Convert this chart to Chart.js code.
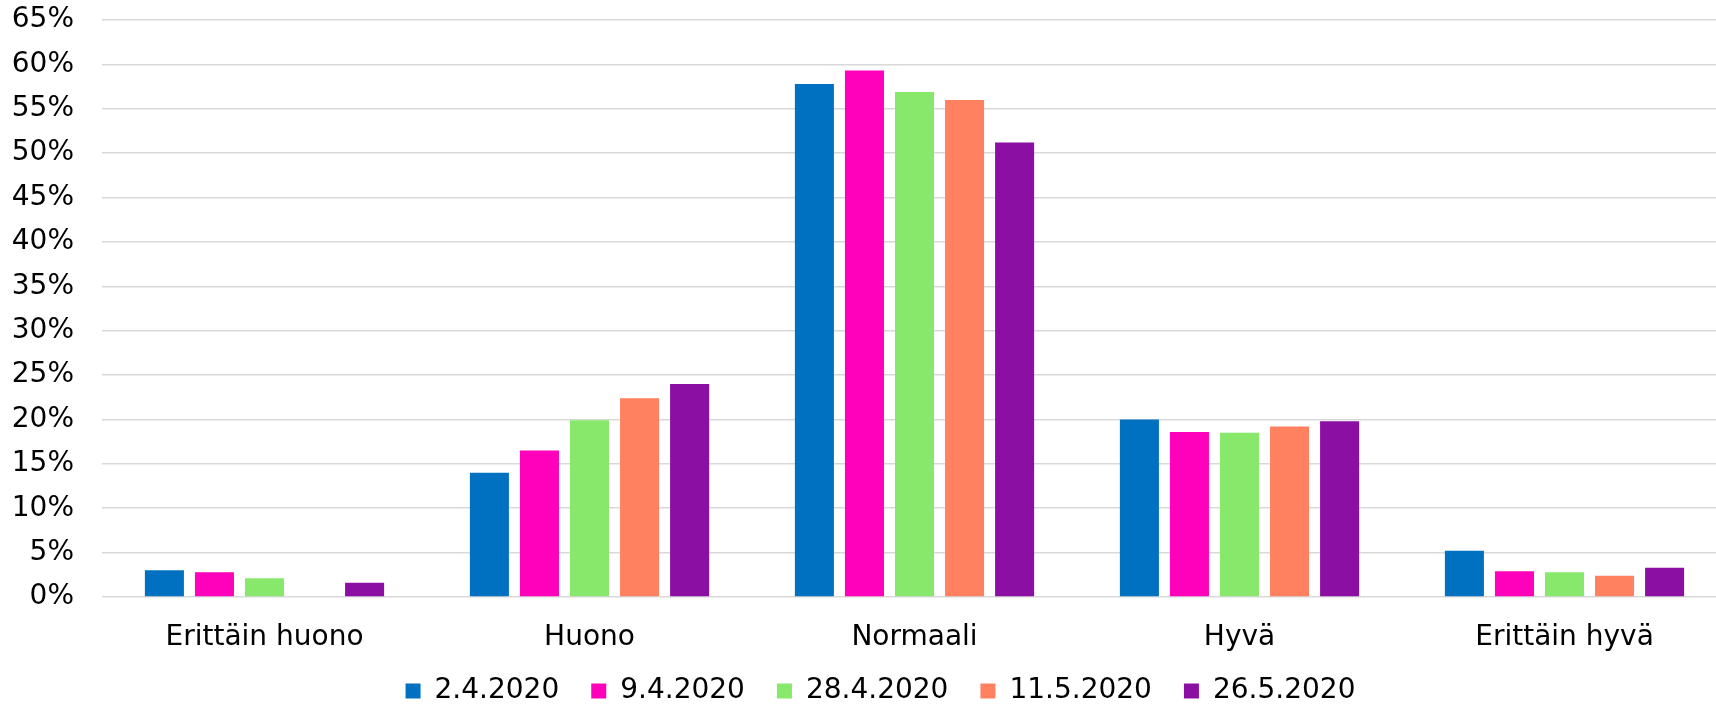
<!DOCTYPE html>
<html>
<head>
<meta charset="utf-8">
<script src="https://cdn.jsdelivr.net/npm/chart.js@4/dist/chart.umd.min.js"></script>
<style>
  html, body { margin: 0; padding: 0; background: #fff; overflow: hidden; }
  #wrap { position: relative; width: 1727px; height: 727px; }
</style>
</head>
<body>
<div id="wrap"><canvas id="chart"></canvas></div>
<script>
// categories and series (percent)
const categories = ['Erittäin huono', 'Huono', 'Normaali', 'Hyvä', 'Erittäin hyvä'];
const seriesNames = ['2.4.2020', '9.4.2020', '28.4.2020', '11.5.2020', '26.5.2020'];
const s_2_4 = [3.0, 14.0, 57.8, 20.0, 5.2];
const s_9_4 = [2.8, 16.5, 59.3, 18.6, 2.9];
const s_28_4 = [2.1, 19.9, 56.9, 18.5, 2.8];
const s_11_5 = [null, 22.4, 56.0, 19.2, 2.4];
const s_26_5 = [1.6, 24.0, 51.2, 19.8, 3.3];
const colors = ['#0070C0', '#FF00BB', '#88E86B', '#FF815F', '#8B0FA3'];

const yMax = 65;
const yStep = 5;

const seriesValues = [s_2_4, s_9_4, s_28_4, s_11_5, s_26_5];

const FONT = { family: '"DejaVu Sans", Verdana, sans-serif', size: 28 };

// nudge legend up/right and let y labels use the full left margin
const nudge = {
  id: 'nudge',
  afterLayout(chart) {
    const lg = chart.legend;
    lg.top -= 12; lg.bottom -= 12;
    lg.left += 17; lg.right += 17;
    chart.scales.y.left = 0;
  }
};

new Chart(document.getElementById('chart'), {
  type: 'bar',
  data: {
    labels: categories,
    datasets: seriesNames.map((name, i) => ({
      label: name,
      data: seriesValues[i],
      backgroundColor: colors[i],
      borderWidth: 0,
      categoryPercentage: 0.77,
      barPercentage: 0.78
    }))
  },
  options: {
    responsive: true,
    maintainAspectRatio: false,
    animation: false,
    layout: { padding: { left: 0, top: 20, right: 0, bottom: 0 } },
    plugins: {
      tooltip: { enabled: false },
      legend: {
        position: 'bottom',
        labels: {
          font: FONT,
          color: '#000',
          boxWidth: 15,
          boxHeight: 15,
          padding: 32
        }
      }
    },
    scales: {
      x: {
        grid: { display: false, drawTicks: false },
        border: { display: false },
        ticks: { font: FONT, color: '#000', padding: 24, maxRotation: 0 },
        afterFit: s => { s.paddingLeft = 0; s.paddingRight = 0; s.height = 60; }
      },
      y: {
        min: 0,
        max: yMax,
        border: { display: false },
        grid: { color: '#d9d9d9', lineWidth: 1.5, drawTicks: false },
        ticks: {
          stepSize: yStep,
          font: FONT,
          color: '#000',
          padding: 28,
          callback: v => v + '%'
        },
        afterFit: s => { s.width = 102; s.paddingTop = 0; s.paddingBottom = 0; }
      }
    }
  },
  plugins: [nudge]
});
</script>
</body>
</html>
